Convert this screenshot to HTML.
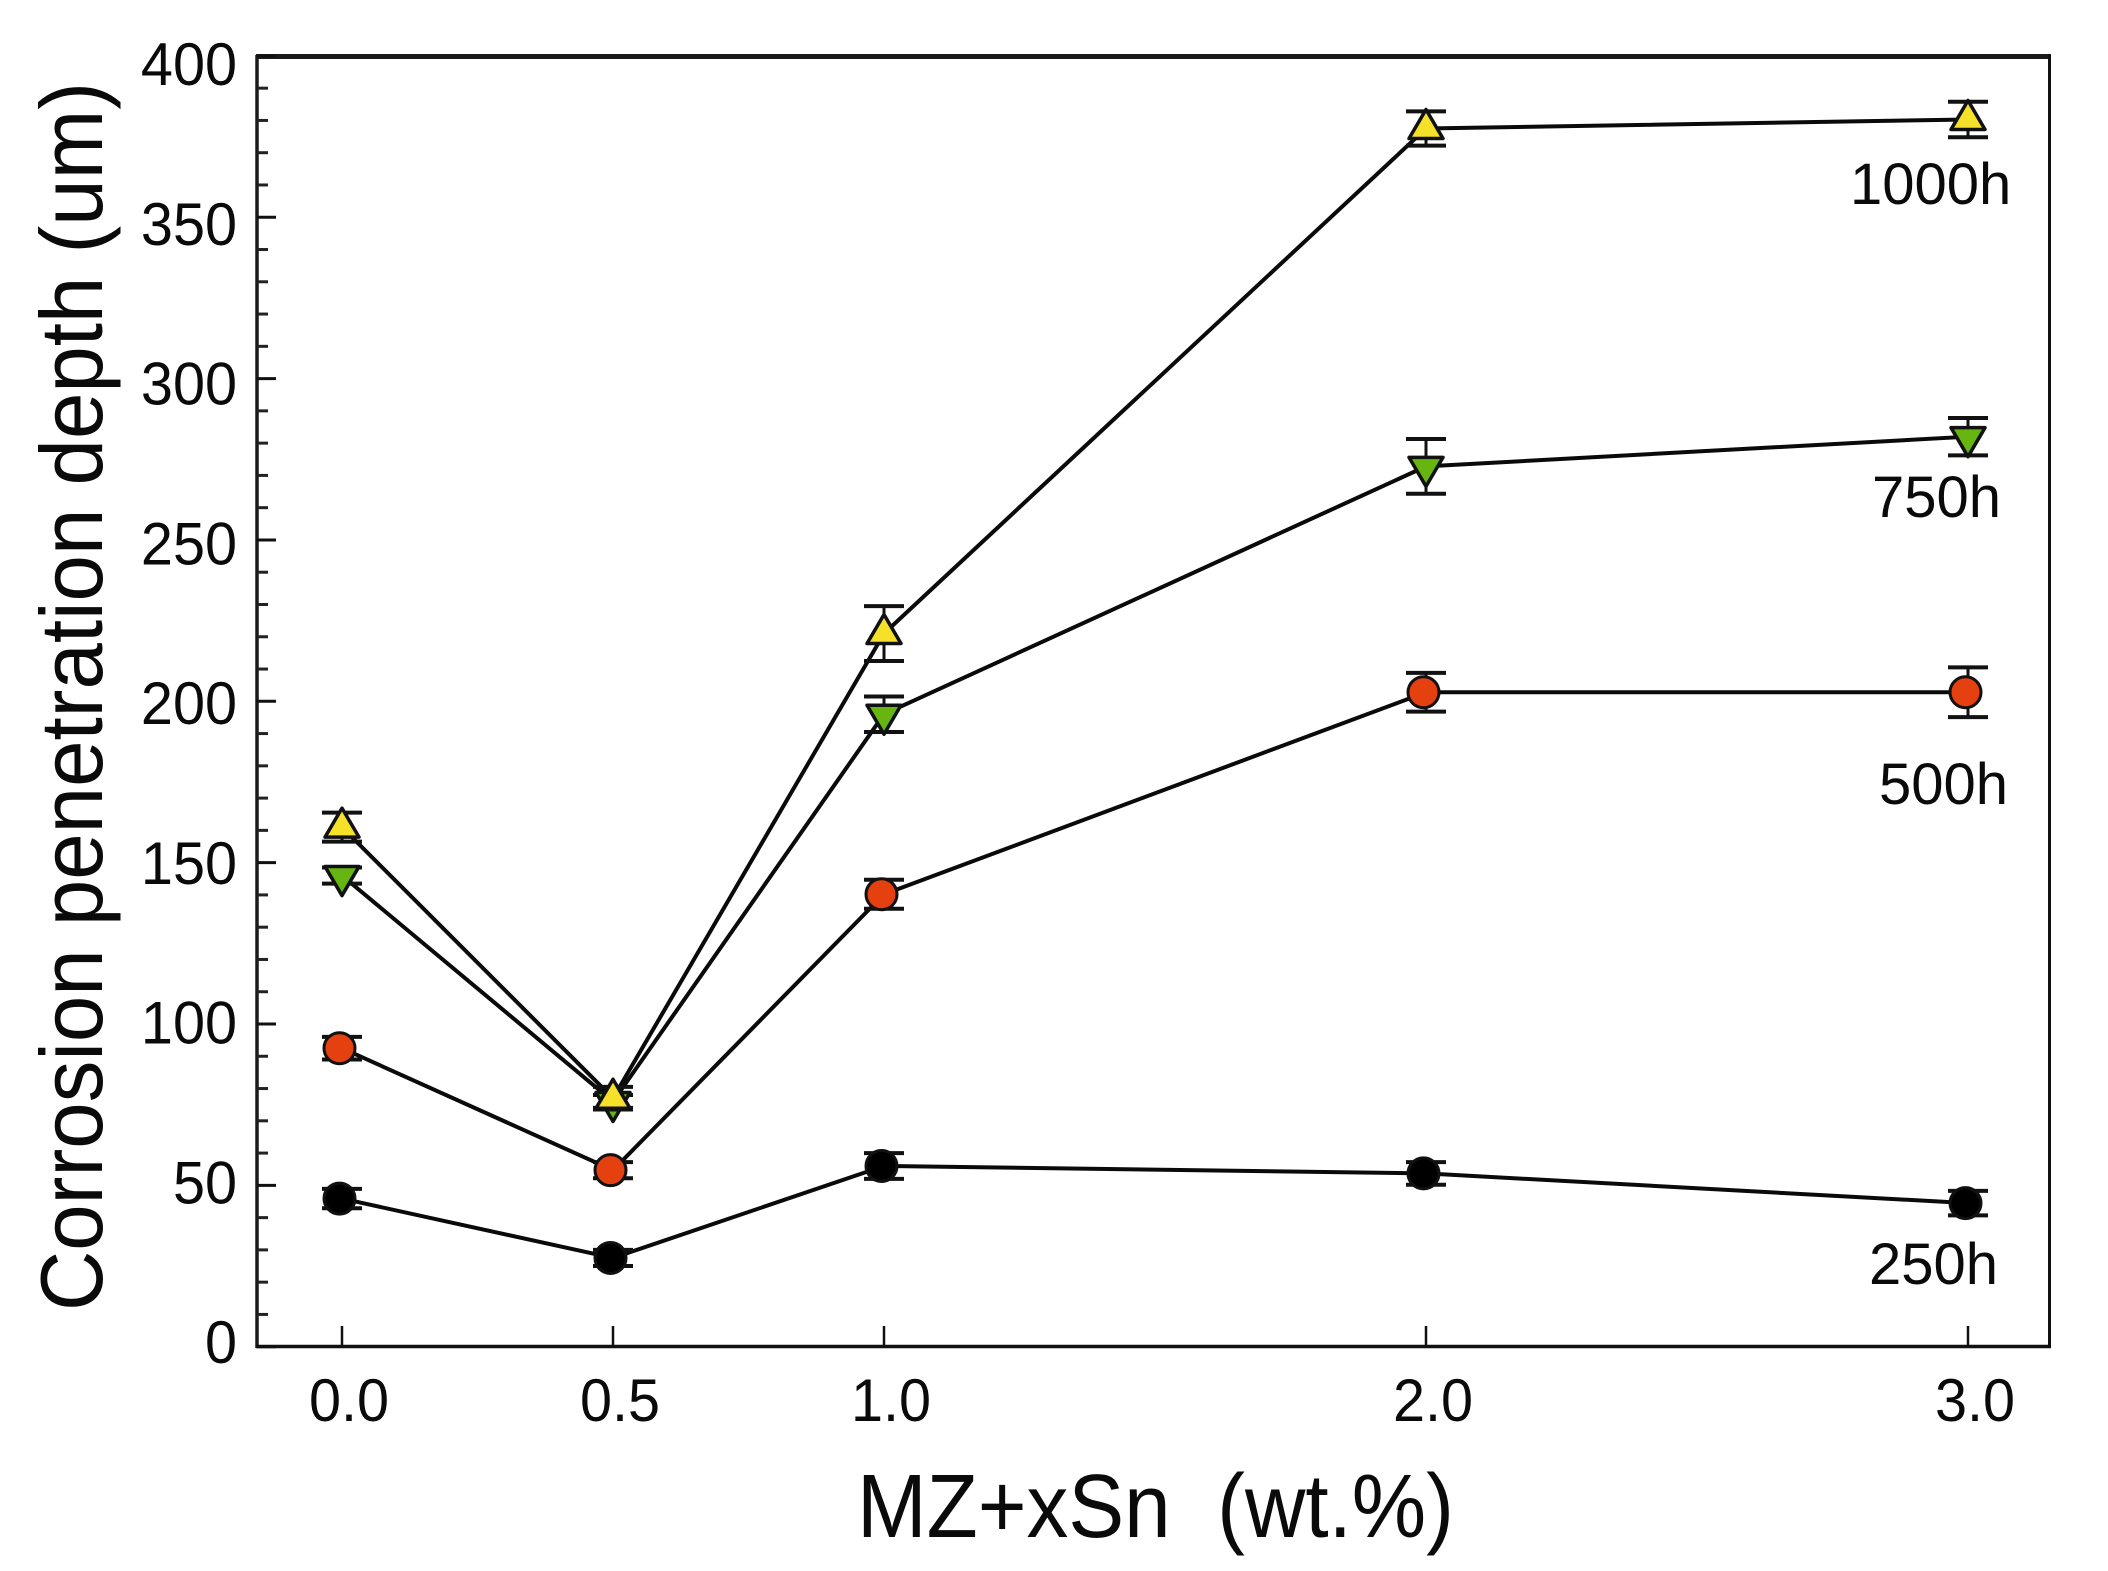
<!DOCTYPE html>
<html lang="en">
<head>
<meta charset="utf-8">
<title>Corrosion penetration depth vs Sn content</title>
<style>
html,body{margin:0;padding:0;background:#fff;}
svg{display:block;}
text{font-family:"Liberation Sans",sans-serif;fill:#0a0a0a;}
</style>
</head>
<body>
<svg id="chart" width="2108" height="1571" viewBox="0 0 2108 1571" xmlns="http://www.w3.org/2000/svg">
  <rect x="0" y="0" width="2108" height="1571" fill="#ffffff"/>
  <g id="series-layer"></g>
  <g id="axis-layer">
    <line x1="256" y1="56.5" x2="2051" y2="56.5" stroke="#1a1a1a" stroke-width="5"/>
    <line x1="257" y1="55" x2="257" y2="1348" stroke="#1a1a1a" stroke-width="3.5"/>
    <line x1="2049.5" y1="55" x2="2049.5" y2="1348" stroke="#111" stroke-width="3"/>
    <line x1="256" y1="1346.5" x2="2051" y2="1346.5" stroke="#111" stroke-width="3.5"/>
  </g>
  <text transform="translate(102,1311) rotate(-90)" font-size="88" textLength="1229" lengthAdjust="spacingAndGlyphs">Corrosion penetration depth (um)</text>
  <text x="857" y="1537" font-size="90" textLength="597" lengthAdjust="spacingAndGlyphs" xml:space="preserve">MZ+xSn  (wt.%)</text>
</svg>
<script>
const xCategories = [0, 0.5, 1, 2, 3];
const xTickLabels = ["0.0", "0.5", "1.0", "2.0", "3.0"];
const yMajorTicks = [0, 50, 100, 150, 200, 250, 300, 350, 400];
const yTickLabels = ["0", "50", "100", "150", "200", "250", "300", "350", "400"];
const yMinorTicks = [10, 20, 30, 40, 60, 70, 80, 90, 110, 120, 130, 140, 160, 170, 180, 190, 210, 220, 230, 240, 260, 270, 280, 290, 310, 320, 330, 340, 360, 370, 380, 390];

const values250h = [45.9, 27.5, 56, 53.7, 44.5];
const errors250h = [3, 2.5, 4, 3.5, 3.8];
const values500h = [92.5, 54.7, 140.2, 202.8, 202.8];
const errors500h = [3.5, 2.5, 4.5, 6, 7.7];
const values750h = [146, 76, 196, 272.8, 282];
const errors750h = [2.5, 2, 5.5, 8.5, 5.8];
const values1000h = [161, 77, 221, 377.5, 380.3];
const errors1000h = [4.5, 3.5, 8.5, 5.3, 5.5];

const svgNS = 'http://www.w3.org/2000/svg';
const seriesLayer = document.getElementById('series-layer');
const axisLayer = document.getElementById('axis-layer');
const chart = document.getElementById('chart');

function xScale(v) { return 342 + 542 * v; }
function yScale(v) { return 1346.7 - 3.227 * v; }
function yLabelBaseline(v) { return 1363 - 3.195 * v; }

function make(tag, attrs, parent) {
  const el = document.createElementNS(svgNS, tag);
  for (const k in attrs) el.setAttribute(k, attrs[k]);
  parent.appendChild(el);
  return el;
}

yMajorTicks.forEach(function (v, i) {
  const tick = make('line', { x1: 257, x2: 276, y1: yScale(v), y2: yScale(v), stroke: '#111', 'stroke-width': 3 }, axisLayer);
  
  
  const label = make('text', { transform: 'translate(237,' + yLabelBaseline(v) + ') scale(0.96,1)', 'text-anchor': 'end', 'font-size': 60 }, chart);
  label.textContent = yTickLabels[i];
  
  
});

yMinorTicks.forEach(function (v) {
  const tick = make('line', { x1: 257, x2: 268, y1: yScale(v), y2: yScale(v), stroke: '#222', 'stroke-width': 3 }, axisLayer);
  
  
});

xCategories.forEach(function (v, i) {
  const tick = make('line', { x1: xScale(v), x2: xScale(v), y1: 1346, y2: 1326, stroke: '#111', 'stroke-width': 2.5 }, axisLayer);
  
  
  const label = make('text', { transform: 'translate(' + (xScale(v) + 7) + ',1421) scale(0.96,1)', 'text-anchor': 'middle', 'font-size': 60 }, chart);
  label.textContent = xTickLabels[i];
  
  
});

function drawSeries(name, values, errors, marker, fill) {
  const group = make('g', {}, seriesLayer);
  
  

  const pts = values.map(function (v, i) { return xScale(xCategories[i]) + ',' + yScale(v); }).join(' ');
  const line = make('polyline', { points: pts, fill: 'none', stroke: '#0a0a0a', 'stroke-width': 4, 'stroke-linejoin': 'round' }, group);
  
  

  values.forEach(function (v, i) {
    const cx = xScale(xCategories[i]);
    const top = yScale(v + errors[i]);
    const bottom = yScale(v - errors[i]);
    const stem = make('line', { x1: cx, x2: cx, y1: top, y2: bottom, stroke: '#111', 'stroke-width': 3 }, group);
    
    
    const capTop = make('line', { x1: cx - 20, x2: cx + 20, y1: top, y2: top, stroke: '#111', 'stroke-width': 4 }, group);
    
    
    const capBottom = make('line', { x1: cx - 20, x2: cx + 20, y1: bottom, y2: bottom, stroke: '#111', 'stroke-width': 4 }, group);
    
    
  });

  values.forEach(function (v, i) {
    const cx = xScale(xCategories[i]);
    const cy = yScale(v);
    let m;
    if (marker === 'circle') {
      m = make('circle', { cx: cx - 2.5, cy: cy, r: 15.5, fill: fill, stroke: '#111', 'stroke-width': 3 }, group);
    } else if (marker === 'up') {
      m = make('polygon', { points: (cx) + ',' + (cy - 19) + ' ' + (cx + 17) + ',' + (cy + 10) + ' ' + (cx - 17) + ',' + (cy + 10), fill: fill, stroke: '#111', 'stroke-width': 3.5, 'stroke-linejoin': 'round' }, group);
    } else {
      m = make('polygon', { points: (cx) + ',' + (cy + 20) + ' ' + (cx + 17) + ',' + (cy - 9) + ' ' + (cx - 17) + ',' + (cy - 9), fill: fill, stroke: '#111', 'stroke-width': 3.5, 'stroke-linejoin': 'round' }, group);
    }
    
    
  });
}

drawSeries('250h', values250h, errors250h, 'circle', '#000000');
drawSeries('500h', values500h, errors500h, 'circle', '#e5400f');
drawSeries('750h', values750h, errors750h, 'down', '#66b510');
drawSeries('1000h', values1000h, errors1000h, 'up', '#f5e02a');

const label1000 = make('text', { x: 1850, y: 204, 'font-size': 58 }, chart);
label1000.textContent = '1000h';


const label750 = make('text', { x: 1872, y: 517, 'font-size': 58 }, chart);
label750.textContent = '750h';


const label500 = make('text', { x: 1879, y: 804, 'font-size': 58 }, chart);
label500.textContent = '500h';


const label250 = make('text', { x: 1869, y: 1284, 'font-size': 58 }, chart);
label250.textContent = '250h';


</script>
</body>
</html>
